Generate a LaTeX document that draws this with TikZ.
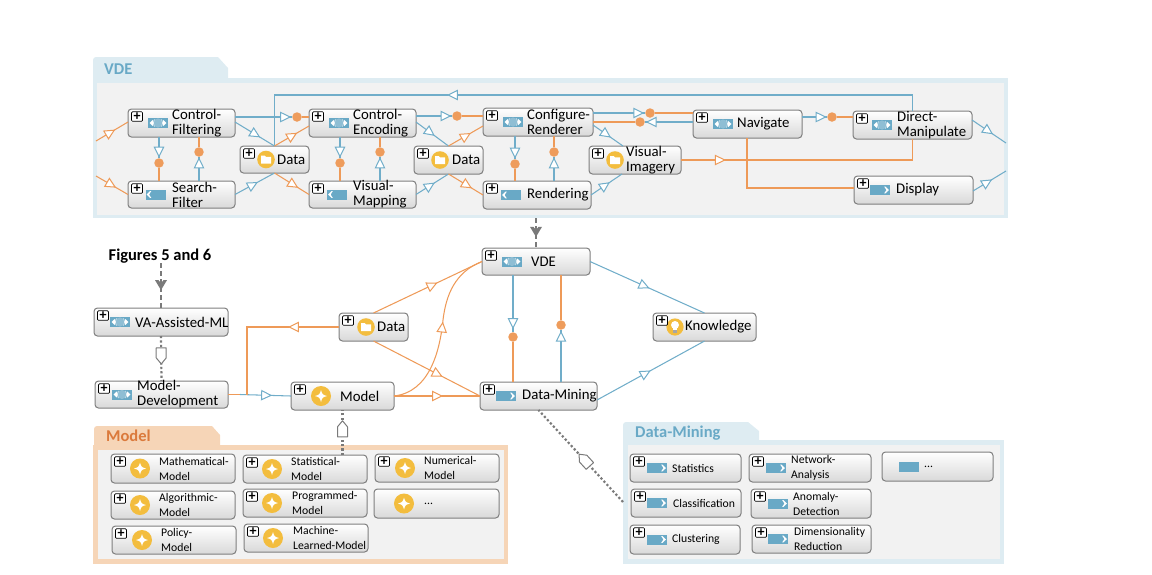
\documentclass[tikz,border=0pt]{standalone}
\usepackage{fontspec}
\setmainfont{Carlito}
\usetikzlibrary{arrows.meta,decorations.markings,calc}
\definecolor{lblue}{HTML}{70ADC9}
\definecolor{iblue}{HTML}{69A9C6}
\definecolor{lorange}{HTML}{EE9A58}
\definecolor{dotorange}{HTML}{EE9C5C}
\definecolor{tabblue}{HTML}{DEECF2}
\definecolor{taborange}{HTML}{F6D5B7}
\definecolor{panelfill}{HTML}{F2F2F2}
\definecolor{yel}{HTML}{F3BD3E}
\definecolor{boxline}{HTML}{7F7F7F}
\definecolor{dgray}{HTML}{7A7A7A}
\definecolor{titleblue}{HTML}{69A9C6}
\definecolor{titleorange}{HTML}{DB7A3C}
\tikzset{
  mid/.style={postaction={decorate,decoration={markings,
     mark=at position #1 with {\arrow[line width=1pt]{Triangle[length=11pt,width=10.5pt,fill=white]}}}}},
  penta/.style={postaction={decorate,decoration={markings,
     mark=at position #1 with {\draw[draw=dgray,line width=1pt,fill=white,solid,line join=round] (0pt,0pt) -- (-6pt,5pt) -- (-16pt,5pt) -- (-16pt,-5pt) -- (-6pt,-5pt) -- cycle;}}}},
  chev/.style={postaction={decorate,decoration={markings,
     mark=at position #1 with {\fill[dgray,solid] (0pt,0pt) -- (-10pt,6pt) -- (-10pt,2.5pt) -- (-7pt,0pt) -- (-10pt,-2.5pt) -- (-10pt,-6pt) -- cycle;}}}},
  bl/.style={draw=lblue,line width=1.05pt},
  og/.style={draw=lorange,line width=1.05pt},
  ogt/.style={draw=lorange,line width=1.4pt},
  dottedline/.style={draw=dgray,line width=2.2pt,dash pattern=on 2.2pt off 2.2pt},
  dashline/.style={draw=dgray,line width=1.2pt,dash pattern=on 5pt off 3pt},
  oval/.style={circle,fill=dotorange,inner sep=0pt,minimum size=9.5pt},
  elbox/.style={rectangle,rounded corners=3.5pt,draw=boxline,line width=1pt,top color=white,bottom color=black!15,inner sep=0pt,outer sep=0pt},
  plusbox/.style={rectangle,rounded corners=1pt,draw=black,line width=.7pt,fill=white,inner sep=0pt,minimum width=11pt,minimum height=9.5pt,font=\fontsize{14}{11}\selectfont\bfseries},
  eltext/.style={anchor=west,inner sep=0pt,align=left,text=black},
  big/.style={font=\fontsize{14.8}{15}\selectfont},
  small/.style={font=\fontsize{11.7}{15}\selectfont},
  iconboth/.pic={
    \fill[iblue] (-10,-5) rectangle (10,5);
    \fill[white] (-8.5,0) -- (-5,-3.2) -- (-5,3.2) -- cycle;
    \fill[white] (8.5,0) -- (5,-3.2) -- (5,3.2) -- cycle;
    \fill[iblue!75!white] (0,0) circle (4.6);
    \draw[white,line width=.5pt] (-3.6,-3.6) .. controls (-5,-1) and (-5,1) .. (-3.6,3.6);
    \draw[white,line width=.5pt] (3.6,-3.6) .. controls (5,-1) and (5,1) .. (3.6,3.6);
  },
  iconleft/.pic={
    \fill[iblue] (-10,-5) rectangle (10,5);
    \fill[white] (-9,0) -- (-5.5,-3.4) -- (-4.2,-3.4) -- (-6.4,0) -- (-4.2,3.4) -- (-5.5,3.4) -- cycle;
  },
  iconright/.pic={
    \fill[iblue] (-10,-5) rectangle (10,5);
    \fill[white] (9,0) -- (5.5,-3.4) -- (4.2,-3.4) -- (6.4,0) -- (4.2,3.4) -- (5.5,3.4) -- cycle;
  },
  iconplain/.pic={
    \fill[iblue] (-10,-5) rectangle (10,5);
  },
  iconfolder/.pic={
    \fill[yel] (0,0) circle (8.8);
    \fill[white] (-5,-4) -- (-1.5,-4) -- (0,-2.6) -- (5,-2.6) -- (5,4) -- (-5,4) -- cycle;
  },
  iconstar/.pic={
    \fill[yel] (0,0) circle (10);
    \fill[white] (0,-6) .. controls (1.4,-1.4) .. (6,0) .. controls (1.4,1.4) .. (0,6) .. controls (-1.4,1.4) .. (-6,0) .. controls (-1.4,-1.4) .. cycle;
  },
  iconbulb/.pic={
    \fill[yel] (0,0) circle (8.6);
    \fill[white] (0,-2) circle (4);
    \fill[white] (-2,0) rectangle (2,4);
    \fill[black!35] (-1.7,3.4) rectangle (1.7,5.6);
  },
}
% id x0 y0 x1 y1 icon iconx textx text
\newcommand\ElemBase[9]{%
  \pgfmathsetmacro\elcx{(#2+#4)/2}\pgfmathsetmacro\elcy{(#3+#5)/2}%
  \pgfmathsetmacro\elw{#4-#2}\pgfmathsetmacro\elh{#5-#3}%
  \node[elbox,minimum width=\elw pt,minimum height=\elh pt] (#1) at (\elcx,\elcy) {};
  \pic at (#7,\elcy) {icon#6};
  \node[eltext] (#1-text) at (#8,\elcy) {#9};
}
\newcommand\PlusBox[1]{\node[plusbox] (#1-plus) at ([xshift=9pt,yshift=-7.5pt]#1.north west) {+};}
\newcommand\Elem[9]{\ElemBase{#1}{#2}{#3}{#4}{#5}{#6}{#7}{#8}{#9}\PlusBox{#1}}
\begin{document}
\begin{tikzpicture}[x=1pt,y=-1pt]
\useasboundingbox (0,0) rectangle (1152,574);
% ---------- panels
\fill[tabblue] (93,78) -- (93,60) [rounded corners=3pt] -- (93,57) [sharp corners] -- (218,57) -- (228,68) -- (228,78) -- cycle;
\node[rectangle,fill=tabblue,inner sep=0pt,outer sep=0pt,minimum width=915pt,minimum height=140pt] (vpanel) at (550.5,148) {};
\fill[panelfill] (97,83) rectangle (1004,215);
\node[anchor=west,inner sep=0pt,text=titleblue,font=\fontsize{16.5}{17}\selectfont\bfseries] (vtitle) at (104,69) {VDE};

\fill[taborange] (94,445) -- (94,429) [rounded corners=3pt] -- (94,426) [sharp corners] -- (212,426) -- (220,435) -- (220,445) -- cycle;
\node[rectangle,fill=taborange,inner sep=0pt,outer sep=0pt,minimum width=415pt,minimum height=119pt] (mpanel) at (300.5,504.5) {};
\fill[panelfill] (98,450) rectangle (504,559);
\node[anchor=west,inner sep=0pt,text=titleorange,font=\fontsize{16.5}{17}\selectfont\bfseries] (mtitle) at (106,436) {Model};

\fill[tabblue] (623,440) -- (623,425) [rounded corners=3pt] -- (623,422) [sharp corners] -- (748,422) -- (759,431) -- (759,440) -- cycle;
\node[rectangle,fill=tabblue,inner sep=0pt,outer sep=0pt,minimum width=381pt,minimum height=124pt] (dpanel) at (813.5,502) {};
\fill[panelfill] (628,445) rectangle (1000,559);
\node[anchor=west,inner sep=0pt,text=titleblue,font=\fontsize{16.5}{17}\selectfont\bfseries] (dtitle) at (635,433) {Data-Mining};

% ---------- VDE panel elements
\tikzset{eltext/.append style={big}}
\Elem{cf}{128}{109}{235}{137}{both}{158}{172}{Control-\\Filtering}
\Elem{sf}{128}{181}{235}{208}{left}{155.5}{172}{Search-\\Filter}
\Elem{da}{240}{146}{309}{173}{folder}{266}{277}{Data}
\Elem{ce}{309}{109}{416}{137}{both}{339}{353}{Control-\\Encoding}
\Elem{vm}{309}{181}{416}{208}{left}{337}{353}{Visual-\\Mapping}
\Elem{db}{414}{146}{483}{174}{folder}{440}{452}{Data}
\Elem{cr}{483}{108}{593}{136}{both}{513}{527}{Configure-\\Renderer}
\Elem{re}{483}{181}{591}{209}{left}{511}{527}{Rendering}
\Elem{vi}{589}{146}{681}{174}{folder}{615}{626}{Visual-\\Imagery}
\Elem{na}{693}{110}{802}{138}{both}{723}{737}{Navigate}
\Elem{dm}{853}{111}{972}{139}{both}{882}{897}{Direct-\\Manipulate}
\Elem{di}{854}{176}{973}{204}{right}{880}{896}{Display}
% ---------- middle elements
\Elem{vde}{482}{248}{590}{275}{both}{512}{531}{VDE}
\Elem{min}{480}{382}{597}{410}{right}{506}{522}{Data-Mining}
\Elem{kn}{653}{313}{756}{341}{bulb}{675}{685}{Knowledge}
\Elem{dat}{339}{313}{408}{341}{folder}{366}{377}{Data}
\Elem{va}{94}{308}{228}{336}{both}{120}{135}{VA-Assisted-ML}
\Elem{md}{95}{381}{228}{408}{both}{122}{137}{Model-\\Development}
\Elem{mod}{291}{382}{394}{410}{star}{321}{340}{Model}
\node[inner sep=0pt,font=\fontsize{16.5}{17}\selectfont\bfseries] (fig) at (160,256) {Figures 5 and 6};
% ---------- Model panel elements
\tikzset{eltext/.append style={small}}
\Elem{m1}{111}{454}{235}{483}{star}{140}{159}{Mathematical-\\Model}
\Elem{m2}{243}{455}{367}{483}{star}{272}{291}{Statistical-\\Model}
\Elem{m3}{375}{454}{499}{482}{star}{405}{424}{Numerical-\\Model}
\Elem{m4}{111}{491}{235}{519}{star}{140}{159}{Algorithmic-\\Model}
\Elem{m5}{243}{489}{367}{517}{star}{272}{292}{Programmed-\\Model}
\ElemBase{m6}{374}{489}{499}{518}{star}{404}{424}{...}
\Elem{m7}{112}{526}{236}{554}{star}{142}{161}{Policy-\\Model}
\Elem{m8}{244}{524}{368}{552}{star}{273}{293}{Machine-\\Learned-Model}
% ---------- Data-Mining panel elements
\Elem{t1}{630}{454}{741}{482}{right}{657}{672}{Statistics}
\Elem{t2}{749}{454}{871}{482}{right}{776}{791}{Network-\\Analysis}
\ElemBase{t3}{882}{452}{993}{481}{plain}{909}{924}{...}
\Elem{t4}{631}{489}{741}{517}{right}{657}{673}{Classification}
\Elem{t5}{751}{489}{871}{518}{right}{778}{793}{Anomaly-\\Detection}
\Elem{t6}{630}{525}{740}{554}{right}{657}{672}{Clustering}
\Elem{t7}{752}{525}{871}{553}{right}{778}{794}{Dimensionality\\Reduction}

% ---------- free ends
\coordinate (inA) at (96,141);
\coordinate (inB) at (96,176);
\coordinate (outA) at (1006,143);
\coordinate (outB) at (1006,171);
\coordinate (bendTop) at (274.5,95);
\coordinate (bendRight) at (912.5,95);
\coordinate (bendV) at (912.5,160);
\coordinate (bendN) at (747,160);
\coordinate (bendD) at (747,188);
\coordinate (bendL) at (247,327);
\coordinate (bendM) at (247,394.5);
\coordinate (blueStart) at (240,394.5);
\coordinate (curveMid) at (443,320);

% ---------- oval junctions
\node[oval] (o1) at (297,117) {};
\node[oval] (o2) at (159,163) {};
\node[oval] (o3) at (199,152) {};
\node[oval] (o4) at (340,163) {};
\node[oval] (o5) at (380,152) {};
\node[oval] (o6) at (457,116) {};
\node[oval] (o7) at (515,164) {};
\node[oval] (o8) at (554,152) {};
\node[oval] (o9) at (650,113) {};
\node[oval] (o10) at (640,122) {};
\node[oval] (o11) at (832,117) {};
\node[oval] (o12) at (513,337) {};
\node[oval] (o13) at (561,325) {};

% ---------- VDE panel connectors
\draw[og,mid=.6] (inA) -- ([yshift=1pt]cf.west);
\draw[og,mid=.63] (inB) -- (sf.west);
\draw[bl,mid=.985] ([yshift=6pt]cf.east) -- (o1);
\draw[og] (o1) -- (o1 -| ce.west);
\draw[bl,mid=.64] ([yshift=1pt]cf.east) -- (da.north);
\draw[bl,mid=.683] (dm.north) -- (bendRight) -- (bendTop) -- (da.north);
\draw[og,mid=.66] (da.north) -- ([yshift=-3pt]ce.west);
\draw[bl,mid=.58] (sf.east) -- (da.south);
\draw[og,mid=.69] (da.south) -- (vm.west);
\draw[bl,mid=.985] (o2 |- cf.south) -- (o2);
\draw[og] (o2) -- (o2 |- sf.north);
\draw[bl,mid=.985] (o3 |- sf.north) -- (o3);
\draw[og] (o3) -- (o3 |- cf.south);
\draw[bl,mid=.985] (o4 |- ce.south) -- (o4);
\draw[og] (o4) -- (o4 |- vm.north);
\draw[bl,mid=.985] (o5 |- vm.north) -- (o5);
\draw[og] (o5) -- (o5 |- ce.south);
\draw[bl,mid=.985] ([yshift=7pt]ce.east) -- (o6);
\draw[og] (o6) -- (o6 -| cr.west);
\draw[bl,mid=.58] ([yshift=1pt]ce.east) -- (db.north);
\draw[og,mid=.65] (db.north) -- ([yshift=-4pt]cr.west);
\draw[bl,mid=.58] (vm.east) -- (db.south);
\draw[og,mid=.68] (db.south) -- (re.west);
\draw[bl,mid=.985] (o7 |- cr.south) -- (o7);
\draw[og] (o7) -- (o7 |- re.north);
\draw[bl,mid=.985] (o8 |- re.north) -- (o8);
\draw[og] (o8) -- (o8 |- cr.south);
\draw[bl,mid=.985] (o9 -| cr.east) -- (o9);
\draw[og] (o9) -- (o9 -| na.west);
\draw[og] (o10 -| cr.east) -- (o10);
\draw[bl,mid=.985] (o10 -| na.west) -- (o10);
\draw[bl,mid=.6] ([yshift=-3pt]cr.east) -- ([xshift=-12pt]vi.north);
\draw[bl,mid=.61] (re.east) -- ([xshift=-13pt]vi.south);
\draw[ogt,mid=.68] (vi.east) -- (bendN);
\draw[og] (bendN) -- (bendV) -- (dm.south);
\draw[og] (bendN |- na.south) -- (bendD) -- (bendD -| di.west);
\draw[bl,mid=.985] (o11 -| na.east) -- (o11);
\draw[og] (o11) -- (o11 -| dm.west);
\draw[bl,mid=.62] ([yshift=5pt]dm.east) -- (outA);
\draw[bl,mid=.58] ([yshift=-1pt]di.east) -- (outB);

% ---------- middle connectors
\draw[dashline,chev=.63] (vpanel.south -| vde.north) -- (vde.north);
\draw[dashline,chev=.6] (fig.south -| va.north) -- (va.north);
\draw[dottedline,penta=.62] (va.south) -- (md.north);
\draw[dottedline,penta=.76] (m2.north -| mod.south) -- (mod.south);
\draw[dottedline,penta=.52] (dpanel.west) -- (min.south);
\draw[ogt] (md.east) -- (bendM);
\draw[bl,mid=.63] (blueStart) -- (mod.west);
\draw[og,mid=.32] (dat.west) -- (bendL) -- (bendM);
\draw[og,mid=.59] (dat.north) -- (vde.west);
\draw[og,mid=.65] (dat.south) -- (min.west);
\draw[ogt,mid=.57] (mod.east) -- (min.west);
\draw[og,mid=.56] (mod.east) .. controls (430,392) and (440,350) .. (curveMid) .. controls (446,295) and (455,272) .. (vde.west);
\draw[bl,mid=.95] (o12 |- vde.south) -- (o12);
\draw[og] (o12) -- (o12 |- min.north);
\draw[bl,mid=.985] (o13 |- min.north) -- (o13);
\draw[og] (o13) -- (o13 |- vde.south);
\draw[bl,mid=.52] (vde.east) -- (kn.north);
\draw[bl,mid=.5] ([yshift=-4pt]min.east) -- (kn.south);
\end{tikzpicture}
\end{document}
